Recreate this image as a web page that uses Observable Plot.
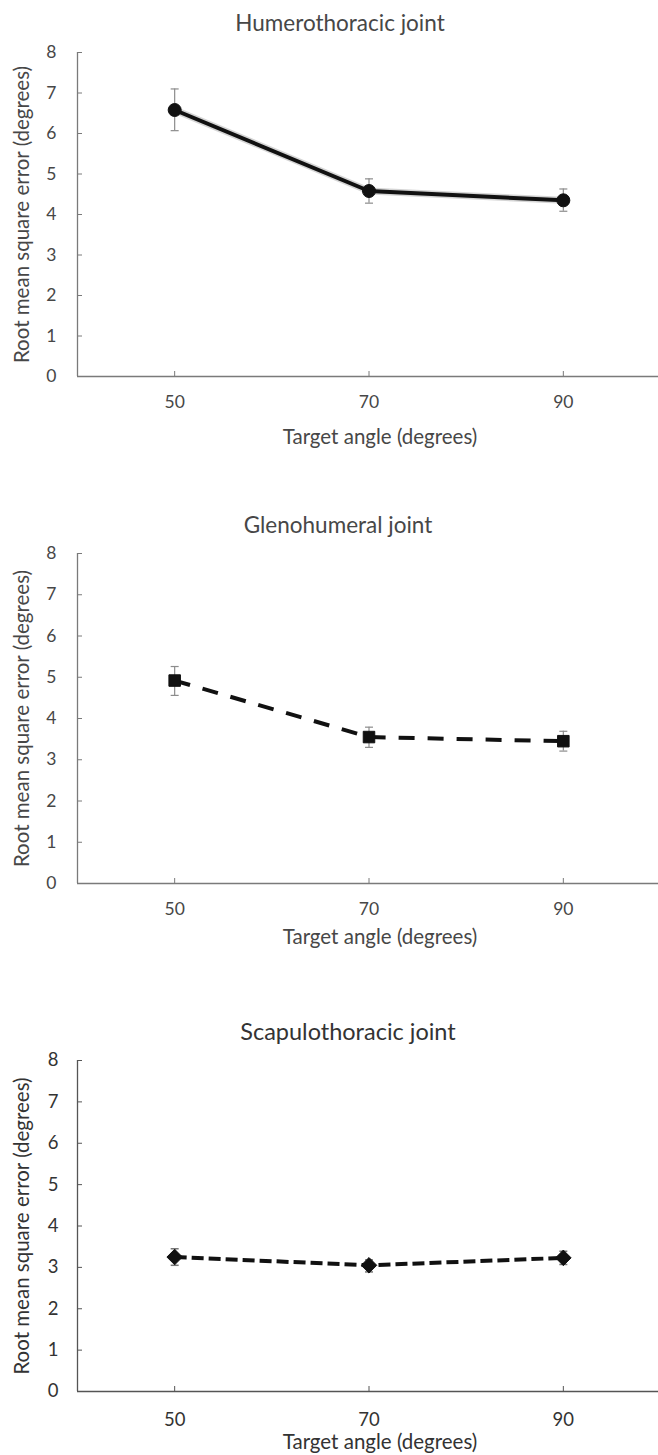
<!DOCTYPE html>
<html>
<head>
<meta charset="utf-8">
<script src="https://cdn.jsdelivr.net/npm/d3@7"></script>
<script src="https://cdn.jsdelivr.net/npm/@observablehq/plot@0.6"></script>
<style>
  html, body { margin: 0; padding: 0; background: #fff; }
  #charts { width: 658px; }
  #charts svg { display: block; }
</style>
</head>
<body>
<div id="charts"></div>
<script>
// ---- data ----
const angles = [50, 70, 90];
const xTicks = [50, 70, 90];
const yTicks = [0, 1, 2, 3, 4, 5, 6, 7, 8];

const humeroMean = [6.58, 4.58, 4.35];
const humeroLo   = [6.07, 4.28, 4.08];
const humeroHi   = [7.10, 4.88, 4.63];

const glenoMean = [4.92, 3.55, 3.45];
const glenoLo   = [4.56, 3.30, 3.21];
const glenoHi   = [5.26, 3.79, 3.69];

const scapMean = [3.25, 3.05, 3.23];
const scapLo   = [3.05, 2.89, 3.07];
const scapHi   = [3.45, 3.18, 3.39];

const titles = ["Humerothoracic joint", "Glenohumeral joint", "Scapulothoracic joint"];
const xLabel = "Target angle (degrees)";
const yLabel = "Root mean square error (degrees)";

// ---- helpers ----
const capSymbol = {
  draw(ctx, size) {
    const r = Math.sqrt(size / Math.PI);
    ctx.moveTo(-r, 0);
    ctx.lineTo(r, 0);
  }
};

function rows(mean, lo, hi) {
  return angles.map((a, i) => ({angle: a, mean: mean[i], lo: lo[i], hi: hi[i]}));
}

function panel(cfg) {
  const data = rows(cfg.mean, cfg.lo, cfg.hi);
  const marks = [
    Plot.ruleX([40], {stroke: cfg.axisColor, strokeWidth: 1.3}),
    Plot.ruleY([0], {stroke: cfg.axisColor, strokeWidth: 1.3}),
    Plot.axisY(yTicks, {label: null, tickSize: -5, tickPadding: cfg.yPad, stroke: cfg.axisColor, fill: cfg.textColor, fontSize: cfg.tickFont, tickFormat: d => String(d)}),
    Plot.axisX(xTicks, {label: null, tickSize: -5, tickPadding: cfg.xPad, stroke: cfg.axisColor, fill: cfg.textColor, fontSize: cfg.tickFont, tickFormat: d => String(d)}),
    // error bars
    Plot.ruleX(data, {x: "angle", y1: "lo", y2: "hi", stroke: cfg.errColor, strokeWidth: cfg.errWidth}),
    Plot.dot(data, {x: "angle", y: "hi", symbol: capSymbol, r: 4, fill: "none", stroke: cfg.errColor, strokeWidth: cfg.errWidth}),
    Plot.dot(data, {x: "angle", y: "lo", symbol: capSymbol, r: 4, fill: "none", stroke: cfg.errColor, strokeWidth: cfg.errWidth}),
  ];
  if (cfg.halo) {
    marks.push(Plot.line(data, {x: "angle", y: "mean", stroke: "#888", strokeWidth: 7, strokeOpacity: 0.35}));
  }
  marks.push(
    Plot.line(data, {x: "angle", y: "mean", stroke: "#111", strokeWidth: cfg.lineWidth, strokeDasharray: cfg.dash, strokeLinecap: "butt"}),
    Plot.dot(data, {x: "angle", y: "mean", symbol: cfg.symbol, r: cfg.r, fill: "#111", stroke: "#111", strokeWidth: 1}),
    // title
    Plot.text([cfg.title], {frameAnchor: "top", dx: cfg.titleDx, dy: cfg.titleDy, lineAnchor: "middle", fontSize: cfg.titleFont, fill: cfg.textColor}),
    // x label
    Plot.text([xLabel], {frameAnchor: "bottom", dx: cfg.xLabelDx, dy: cfg.xLabelDy, lineAnchor: "middle", fontSize: cfg.labelFont, fill: cfg.textColor}),
    // y label
    Plot.text([yLabel], {frameAnchor: "left", dx: -55, rotate: -90, lineAnchor: "middle", textAnchor: "middle", fontSize: cfg.labelFont, fill: cfg.textColor})
  );
  return Plot.plot({
    width: 658,
    height: cfg.height,
    marginLeft: 77,
    marginRight: 0,
    marginTop: cfg.marginTop,
    marginBottom: cfg.marginBottom,
    style: {fontFamily: "Lato, 'Open Sans', sans-serif", background: "#fff", overflow: "visible"},
    x: {domain: [40, 100], range: [77, 660], axis: null},
    y: {domain: [0, 8], axis: null},
    marks
  });
}

const container = document.getElementById("charts");

container.appendChild(panel({
  title: titles[0], mean: humeroMean, lo: humeroLo, hi: humeroHi,
  height: 490, marginTop: 52, marginBottom: 114,
  titleDx: -28, titleDy: -29, xLabelDx: 12, xLabelDy: 61, yPad: 26, xPad: 24,
  symbol: "circle", r: 6.5, dash: null, lineWidth: 4, halo: true,
  axisColor: "#7a7a7a", textColor: "#474747", errColor: "#8c8c8c", errWidth: 1.2,
  tickFont: 17.5, labelFont: 20.5, titleFont: 22.5
}));

container.appendChild(panel({
  title: titles[1], mean: glenoMean, lo: glenoLo, hi: glenoHi,
  height: 510, marginTop: 63, marginBottom: 117,
  titleDx: -30, titleDy: -28, xLabelDx: 12, xLabelDy: 54, yPad: 26, xPad: 24,
  symbol: "square", r: 6.5, dash: "16,13", lineWidth: 4, halo: false,
  axisColor: "#7a7a7a", textColor: "#474747", errColor: "#8c8c8c", errWidth: 1.2,
  tickFont: 17.5, labelFont: 20.5, titleFont: 22.5
}));

container.appendChild(panel({
  title: titles[2], mean: scapMean, lo: scapLo, hi: scapHi,
  height: 455, marginTop: 60, marginBottom: 64,
  titleDx: -20, titleDy: -28, xLabelDx: 12, xLabelDy: 51, yPad: 24, xPad: 26,
  symbol: "diamond2", r: 7, dash: "12,5", lineWidth: 4, halo: false,
  axisColor: "#555", textColor: "#333", errColor: "#777", errWidth: 1.5,
  tickFont: 18.5, labelFont: 20.5, titleFont: 23.5
}));
</script>
</body>
</html>
